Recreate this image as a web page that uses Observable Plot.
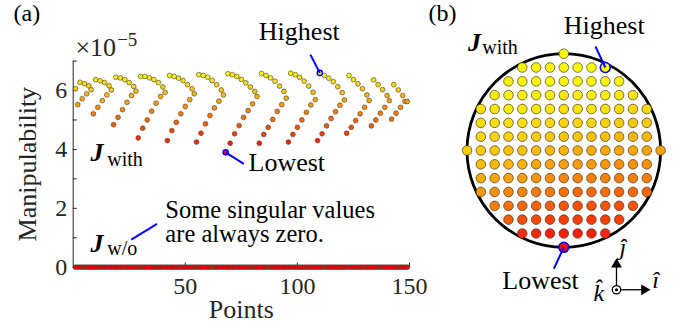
<!DOCTYPE html>
<html><head><meta charset="utf-8">
<script src="https://cdn.jsdelivr.net/npm/d3@7"></script>
<script src="https://cdn.jsdelivr.net/npm/@observablehq/plot@0.6"></script>
<style>
html,body{margin:0;padding:0;background:#fff;}
#chart{position:relative;width:683px;height:326px;overflow:hidden;}
#chart svg{position:absolute;left:0;top:0;overflow:visible;background:transparent !important;}
</style></head><body><div id="chart"></div>
<script>
// ---- data (manipulability ×1e-5), one column of the workspace grid per chevron ----
const columnX = [-7,-6,-5,-4,-3,-2,-1,0,1,2,3,4,5,6,7];
// lower arm: from the bottom of the column up to y = -1
const lowerArms = [
  [],
  [5.52,5.72,5.89],
  [5.21,5.43,5.66,5.85],
  [4.84,5.09,5.35,5.60,5.83],
  [4.39,4.72,5.00,5.30,5.57,5.80],
  [4.30,4.64,4.92,5.21,5.46,5.69],
  [4.25,4.55,4.87,5.15,5.41,5.64],
  [3.90,4.21,4.53,4.81,5.09,5.32,5.55],
  [4.21,4.51,4.75,5.02,5.29,5.52],
  [4.25,4.51,4.75,5.00,5.26,5.51],
  [4.30,4.53,4.80,5.05,5.28,5.50],
  [4.55,4.75,4.98,5.21,5.43],
  [4.80,5.00,5.23,5.43],
  [5.03,5.23,5.43],
  []
];
// upper arm: from the top of the column down to y = +1
const upperArms = [
  [],
  [6.28,6.23,6.16],
  [6.37,6.33,6.27,6.16],
  [6.45,6.43,6.37,6.27,6.14],
  [6.48,6.48,6.43,6.37,6.27,6.12],
  [6.51,6.48,6.42,6.34,6.20,6.06],
  [6.54,6.51,6.45,6.34,6.20,6.02],
  [6.57,6.54,6.48,6.38,6.26,6.12,5.97],
  [6.58,6.51,6.43,6.32,6.15,5.97],
  [6.59,6.54,6.45,6.32,6.15,5.94],
  [6.60,6.51,6.42,6.30,6.13,5.93],
  [6.51,6.37,6.23,6.06,5.85],
  [6.36,6.20,6.03,5.83],
  [6.20,6.02,5.83],
  []
];
// centre of each column (y = 0)
const centers = [6.06,6.03,6.02,5.98,5.94,5.89,5.85,5.80,5.74,5.69,5.68,5.66,5.66,5.63,5.63];
const withoutValue = 0; // J w/o: manipulability is always zero

const xTickLabels = [50,100,150];
const yTickLabels = [0,2,4,6];
const yTickMarks = [0,1,2,3,4,5,6,7];

// ---- build the point table: scan order bottom, top, bottom+1, top-1, ..., centre ----
const points = [];
let idx = 0;
columnX.forEach((cx, c) => {
  const lo = lowerArms[c], up = upperArms[c], m = lo.length;
  for (let k = 0; k < m; k++) {
    points.push({index: ++idx, value: lo[k], gx: cx, gy: -m + k});
    points.push({index: ++idx, value: up[k], gx: cx, gy: m - k});
  }
  points.push({index: ++idx, value: centers[c], gx: cx, gy: 0});
});
const pointsWithout = points.map(p => ({index: p.index, value: withoutValue}));
const vExt = d3.extent(points, d => d.value);
const highest = points.filter(d => d.value === vExt[1]);
const lowest = points.filter(d => d.value === vExt[0]);

const W = 683, H = 326;
const serif = "'Liberation Serif','Times New Roman',Times,serif";
const axisColor = "#262626";
const blue = "#0000ff";
const colorScale = {type: "linear", domain: vExt, range: ["#ff0000", "#ffff00"], interpolate: "rgb", clamp: true};
const dotStroke = "#3a3a3a";

// ---- panel (a) ----
const plotA = Plot.plot({
  width: W, height: H,
  marginLeft: 72.7, marginRight: W - 409, marginTop: 60.6, marginBottom: H - 266.7,
  x: {domain: [0, 150]},
  y: {domain: [0, 7]},
  color: colorScale,
  style: {fontFamily: serif, fontSize: "24px", color: axisColor, background: "transparent", overflow: "visible"},
  marks: [
    Plot.ruleX([0], {y1: 0, y2: 7, stroke: axisColor, strokeWidth: 1}),
    Plot.ruleY([0], {x1: 0, x2: 150, stroke: axisColor, strokeWidth: 1}),
    Plot.ruleY(yTickMarks, {y: d => d, x1: 0, x2: 1.8, stroke: axisColor, strokeWidth: 1}),
    Plot.ruleX(xTickLabels, {x: d => d, y1: 0, y2: 0.14, stroke: axisColor, strokeWidth: 1}),
    Plot.axisY({ticks: yTickLabels, tickFormat: d => String(d), tickSize: 0, tickPadding: 6, fontSize: 24, fontFamily: serif, color: axisColor, label: null}),
    Plot.axisX({ticks: xTickLabels, tickFormat: d => String(d), tickSize: 0, tickPadding: 10, fontSize: 24, fontFamily: serif, color: axisColor, label: null}),
    Plot.text(["Manipulability"], {frameAnchor: "left", dx: -36.7, rotate: -90, lineAnchor: "bottom", textAnchor: "middle", fontSize: 26, fontFamily: serif, fill: axisColor}),
    Plot.text(["Points"], {frameAnchor: "bottom", dy: 50.3, lineAnchor: "bottom", textAnchor: "middle", fontSize: 26, fontFamily: serif, fill: axisColor}),
    Plot.text(["\u00d710"], {x: 1.0, y: 7.19, textAnchor: "start", lineAnchor: "bottom", fontSize: 26, fontFamily: serif, fill: axisColor}),
    Plot.text(["\u22125"], {x: 19.6, y: 7.50, textAnchor: "start", lineAnchor: "bottom", fontSize: 19, fontFamily: serif, fill: axisColor}),
    Plot.text(["(a)"], {x: -26.6, y: 8.35, textAnchor: "start", lineAnchor: "bottom", fontSize: 24, fontFamily: serif, fill: "black"}),
    // data
    Plot.dot(pointsWithout, {x: "index", y: "value", r: 2.4, fill: "value", stroke: dotStroke, strokeWidth: 0.6}),
    Plot.dot(points, {x: "index", y: "value", r: 2.4, fill: "value", stroke: dotStroke, strokeWidth: 0.6}),
    Plot.dot(highest, {x: "index", y: "value", r: 2.6, fill: "value", stroke: blue, strokeWidth: 1.4}),
    Plot.dot(lowest, {x: "index", y: "value", r: 2.6, fill: "value", stroke: blue, strokeWidth: 1.4}),
    // annotations
    Plot.link(highest, {x1: 105.8, y1: 7.22, x2: "index", y2: "value", stroke: blue, strokeWidth: 2}),
    Plot.link(lowest, {x1: "index", y1: "value", x2: 76.1, y2: 3.51, stroke: blue, strokeWidth: 2}),
    Plot.link([0], {x1: 25.9, y1: 0.94, x2: 37.4, y2: 1.47, stroke: blue, strokeWidth: 2}),
    Plot.text(["Highest"], {x: 82.8, y: 7.70, textAnchor: "start", lineAnchor: "bottom", fontSize: 26, fontFamily: serif, fill: "black"}),
    Plot.text(["Lowest"], {x: 78.2, y: 3.28, textAnchor: "start", lineAnchor: "bottom", fontSize: 26, fontFamily: serif, fill: "black"}),
    Plot.text(["J"], {x: 7.7, y: 3.62, textAnchor: "start", lineAnchor: "bottom", fontSize: 26, fontWeight: "bold", fontStyle: "italic", fontFamily: serif, fill: "black"}),
    Plot.text(["with"], {x: 15.2, y: 3.43, textAnchor: "start", lineAnchor: "bottom", fontSize: 20, fontFamily: serif, fill: "black"}),
    Plot.text(["J"], {x: 7.7, y: 0.53, textAnchor: "start", lineAnchor: "bottom", fontSize: 26, fontWeight: "bold", fontStyle: "italic", fontFamily: serif, fill: "black"}),
    Plot.text(["w/o"], {x: 15.2, y: 0.40, textAnchor: "start", lineAnchor: "bottom", fontSize: 20, fontFamily: serif, fill: "black"}),
    Plot.text(["Some singular values\nare always zero."], {x: 41.1, y: 0.85, textAnchor: "start", lineAnchor: "bottom", lineHeight: 1.0, fontSize: 24.5, fontFamily: serif, fill: "black"})
  ]
});

// ---- panel (b) ----
const unitPx = 13.83, centerPx = [563.3, 150], reach = 7;
const plotB = Plot.plot({
  width: W, height: H,
  marginLeft: centerPx[0] - reach * unitPx, marginRight: W - (centerPx[0] + reach * unitPx),
  marginTop: centerPx[1] - reach * unitPx, marginBottom: H - (centerPx[1] + reach * unitPx),
  x: {domain: [-reach, reach], axis: null},
  y: {domain: [-reach, reach], axis: null},
  color: colorScale,
  style: {fontFamily: serif, fontSize: "24px", background: "transparent", overflow: "visible"},
  marks: [
    Plot.dot([{gx: 0, gy: 0}], {x: "gx", y: "gy", r: reach * unitPx, fill: "none", stroke: "black", strokeWidth: 2.8}),
    Plot.dot(points, {x: "gx", y: "gy", r: 4.8, fill: "value", stroke: dotStroke, strokeWidth: 0.7}),
    Plot.dot(highest, {x: "gx", y: "gy", r: 5, fill: "value", stroke: blue, strokeWidth: 1.6}),
    Plot.dot(lowest, {x: "gx", y: "gy", r: 5, fill: "value", stroke: blue, strokeWidth: 1.6}),
    Plot.link(highest, {x1: 2.29, y1: 7.52, x2: "gx", y2: "gy", stroke: blue, strokeWidth: 2}),
    Plot.link(lowest, {x1: "gx", y1: "gy", x2: -0.72, y2: -8.55, stroke: blue, strokeWidth: 2}),
    Plot.text(["(b)"], {x: -9.78, y: 9.33, textAnchor: "start", lineAnchor: "bottom", fontSize: 24, fontFamily: serif, fill: "black"}),
    Plot.text(["Highest"], {x: 0, y: 8.44, textAnchor: "start", lineAnchor: "bottom", fontSize: 26, fontFamily: serif, fill: "black"}),
    Plot.text(["Lowest"], {x: -4.45, y: -10.0, textAnchor: "start", lineAnchor: "bottom", fontSize: 26, fontFamily: serif, fill: "black"}),
    Plot.text(["J"], {x: -6.93, y: 7.16, textAnchor: "start", lineAnchor: "bottom", fontSize: 26, fontWeight: "bold", fontStyle: "italic", fontFamily: serif, fill: "black"}),
    Plot.text(["with"], {x: -5.9, y: 7.0, textAnchor: "start", lineAnchor: "bottom", fontSize: 20, fontFamily: serif, fill: "black"}),
    // coordinate frame icon
    Plot.link([0], {x1: 3.81, y1: -10.07, x2: 3.81, y2: -8.3, stroke: "black", strokeWidth: 1.3}),
    Plot.link([0], {x1: 3.81, y1: -10.07, x2: 5.78, y2: -10.07, stroke: "black", strokeWidth: 1.3}),
    Plot.dot([0], {x: 3.81, y: -8.24, symbol: "triangle", r: 4, fill: "black", rotate: 0}),
    Plot.dot([0], {x: 5.82, y: -10.07, symbol: "triangle", r: 4, fill: "black", rotate: 90}),
    Plot.dot([0], {x: 3.81, y: -10.07, r: 4.2, fill: "white", stroke: "black", strokeWidth: 1.3}),
    Plot.dot([0], {x: 3.81, y: -10.07, r: 1.6, fill: "black"}),
    Plot.text(["\u0135"], {x: 4.03, y: -7.52, textAnchor: "start", lineAnchor: "bottom", fontSize: 24, fontStyle: "italic", fontFamily: serif, fill: "black"}),
    Plot.text(["\u00ee"], {x: 6.39, y: -9.91, textAnchor: "start", lineAnchor: "bottom", fontSize: 24, fontStyle: "italic", fontFamily: serif, fill: "black"}),
    Plot.text(["k\u0302"], {x: 2.15, y: -10.85, textAnchor: "start", lineAnchor: "bottom", fontSize: 24, fontStyle: "italic", fontFamily: serif, fill: "black"})
  ]
});

const host = document.getElementById("chart");
host.appendChild(plotA);
host.appendChild(plotB);
</script></body></html>
